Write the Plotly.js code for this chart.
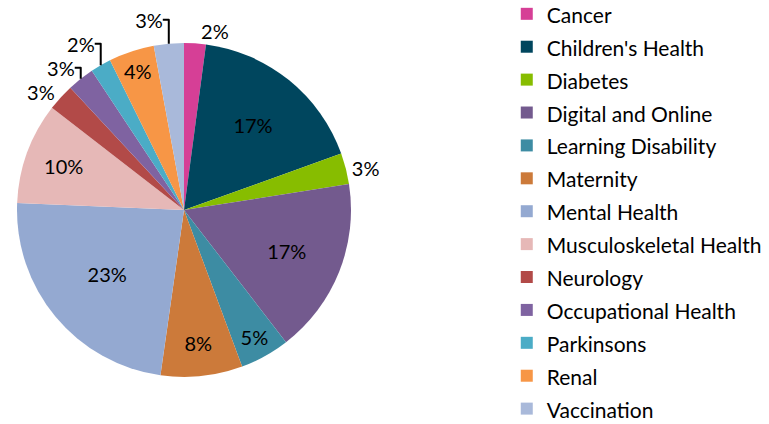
<!DOCTYPE html>
<html>
<head>
<meta charset="utf-8">
<script src="https://cdn.plot.ly/plotly-3.0.1.min.js"></script>
<style>html,body{margin:0;padding:0;background:#fff;}#chart{width:769px;height:424px;}</style>
</head>
<body>
<div id="chart"></div>
<script>
const categories = ["Cancer", "Children's Health", "Diabetes", "Digital and Online", "Learning Disability", "Maternity", "Mental Health", "Musculoskeletal Health", "Neurology", "Occupational Health", "Parkinsons", "Renal", "Vaccination"];
const shares = [2.1, 17.4, 3.0, 17.0, 4.8, 7.9, 23.4, 9.8, 2.6, 2.6, 2.0, 4.4, 2.9];
const colors = ["#D63F96", "#00465E", "#87BD00", "#735A8E", "#3D8CA3", "#CC7A3A", "#94A9D1", "#E6B8B7", "#B24A48", "#7F63A1", "#4BACC6", "#F79646", "#A9B9DA"];
const labelPositions = ["outside", "inside", "outside", "inside", "inside", "inside", "inside", "inside", "outside", "outside", "outside", "inside", "outside"];

const W = 769, H = 424;
const txtFont = {family: "Lato, sans-serif", size: 20, color: "#000"};
// legend rows are spaced by the legend font size; the visible label text is set a bit smaller
const legendLabels = categories.map(c => '<span style="font-size:21px">' + c + '</span>');
const trace = {
  type: "pie",
  labels: legendLabels,
  values: shares,
  sort: false,
  direction: "clockwise",
  rotation: 0,
  marker: {colors: colors, line: {width: 0}},
  textinfo: "percent",
  texttemplate: "%{percent:.0%}",
  textposition: labelPositions,
  insidetextorientation: "horizontal",
  textfont: txtFont,
  insidetextfont: txtFont,
  outsidetextfont: txtFont,
  domain: {x: [17 / W, 351 / W], y: [(H - 377) / H, (H - 43) / H]},
  hoverinfo: "label+percent"
};
const layout = {
  width: W, height: H,
  margin: {l: 0, r: 0, t: 0, b: 0, autoexpand: false},
  paper_bgcolor: "#fff",
  showlegend: true,
  legend: {x: 0.659, y: 1.018, xanchor: "left", yanchor: "top", maxheight: 600, font: {family: "Lato, sans-serif", size: 23, color: "#000"}, traceorder: "normal", bgcolor: "rgba(0,0,0,0)"},
  font: {family: "Lato, sans-serif"}
};
Plotly.newPlot("chart", [trace], layout, {staticPlot: true, displayModeBar: false});
</script>
</body>
</html>
